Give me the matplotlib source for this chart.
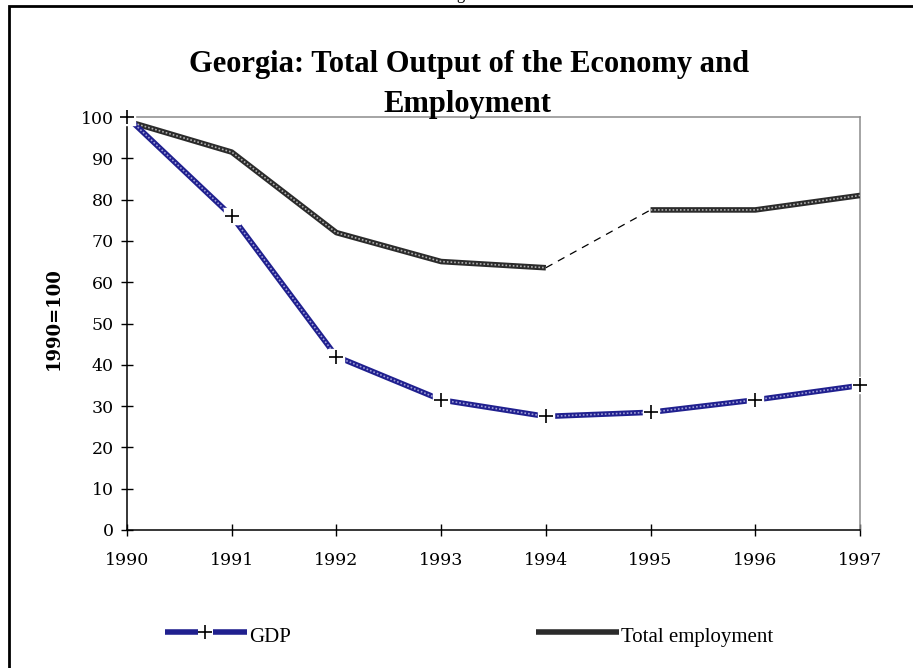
import numpy as np
import matplotlib
matplotlib.use("Agg")
import matplotlib.pyplot as plt
from matplotlib.patches import Rectangle

# data (1990 = 100)
years = [1990, 1991, 1992, 1993, 1994, 1995, 1996, 1997]
gdp = [100, 76, 42, 31.5, 27.5, 28.5, 31.5, 35]
employment = [99, 91.5, 72, 65, 63.5, 77.5, 77.5, 81]
gap_from, gap_to = 1994, 1995  # employment segment drawn dashed

title_lines = ["Georgia: Total Output of the Economy and", "Employment"]
ylabel = "1990=100"

W, H = 913, 668
fig = plt.figure(figsize=(W / 100, H / 100), dpi=100)
ax = fig.add_axes([127 / W, 1 - 530 / H, (860 - 127) / W, (530 - 117) / H])

yrs = np.array(years, dtype=float)
emp = np.array(employment, dtype=float)
gdp_a = np.array(gdp, dtype=float)

# employment: solid textured parts, dashed thin jump
emp_a = np.where(yrs <= gap_from, emp, np.nan)
emp_b = np.where(yrs >= gap_to, emp, np.nan)
gap_mask = (yrs >= gap_from) & (yrs <= gap_to)

for part in (emp_a, emp_b):
    ax.plot(yrs, part, color="#2b2b2b", lw=4, solid_capstyle="butt", zorder=3)
    ax.plot(yrs, part, color="#b0b0b0", lw=1.2, ls=(0, (1, 1.2)), zorder=4)
ax.plot(yrs[gap_mask], emp[gap_mask], color="black", lw=0.9, ls=(0, (6, 5)), zorder=3)

# GDP: blue textured line with crosses
ax.plot(yrs, gdp_a, color="#20208f", lw=4, solid_capstyle="butt", zorder=3)
ax.plot(yrs, gdp_a, color="#a0a0d8", lw=1.2, ls=(0, (1, 1.2)), zorder=4)
ax.plot(yrs, gdp_a, ls="none", marker="s", ms=11, mfc="white", mec="white", zorder=5, clip_on=False)
ax.plot(yrs, gdp_a, ls="none", marker="+", ms=10, mew=1.2, color="black", zorder=6, clip_on=False)

ax.set_xlim(1990, 1997)
ax.set_ylim(0, 100)
ax.set_xticks(years)
ax.set_yticks(range(0, 101, 10))

tick_font = dict(family="DejaVu Serif", size=12.5)
ax.set_xticklabels([str(y) for y in years], fontdict=tick_font)
ax.set_yticklabels([str(v) for v in range(0, 101, 10)], fontdict=tick_font)
ax.tick_params(axis="both", direction="inout", length=9, width=1, colors="black")
ax.tick_params(axis="x", pad=11)
ax.tick_params(axis="y", pad=5)

for side in ("left", "bottom"):
    ax.spines[side].set_color("black")
    ax.spines[side].set_linewidth(1.1)
for side in ("top", "right"):
    ax.spines[side].set_color("#8c8c8c")
    ax.spines[side].set_linewidth(1.1)

ax.set_ylabel(ylabel, family="DejaVu Serif", weight="bold", size=13)
ax.yaxis.set_label_coords(-0.087, 0.511)

# title, two lines placed separately
fig.text(469 / W, 1 - 72 / H, title_lines[0], ha="center", va="baseline",
         family="Liberation Serif", weight="bold", size=22)
fig.text(467 / W, 1 - 112 / H, title_lines[1], ha="center", va="baseline",
         family="Liberation Serif", weight="bold", size=22)

# legend drawn by hand like the original
leg_y = 1 - 632 / H
txt_y = 1 - 642 / H
fig.lines.append(plt.Line2D([165 / W, 198 / W], [leg_y, leg_y], transform=fig.transFigure,
                            color="#20208f", lw=4, solid_capstyle="butt"))
fig.lines.append(plt.Line2D([213 / W, 247 / W], [leg_y, leg_y], transform=fig.transFigure,
                            color="#20208f", lw=4, solid_capstyle="butt"))
fig.lines.append(plt.Line2D([205 / W], [leg_y], transform=fig.transFigure, ls="none",
                            marker="+", ms=10, mew=1.2, color="black"))
fig.text(249 / W, txt_y, "GDP", va="baseline", family="Liberation Serif", size=15)
fig.lines.append(plt.Line2D([536 / W, 619 / W], [leg_y, leg_y], transform=fig.transFigure,
                            color="#2b2b2b", lw=4, solid_capstyle="butt"))
fig.text(621 / W, txt_y, "Total employment", va="baseline", family="Liberation Serif", size=15)

# page frame and clipped caption above it
fig.patches.append(Rectangle((9 / W, -0.05), 1.05, 1.05 - 6 / H, transform=fig.transFigure,
                             fill=False, ec="black", lw=2))
fig.text(471 / W, 1 + 1 / H, "Figure 1", ha="center", va="baseline",
         family="Liberation Serif", size=12)

fig.savefig("out.png", dpi=100)
